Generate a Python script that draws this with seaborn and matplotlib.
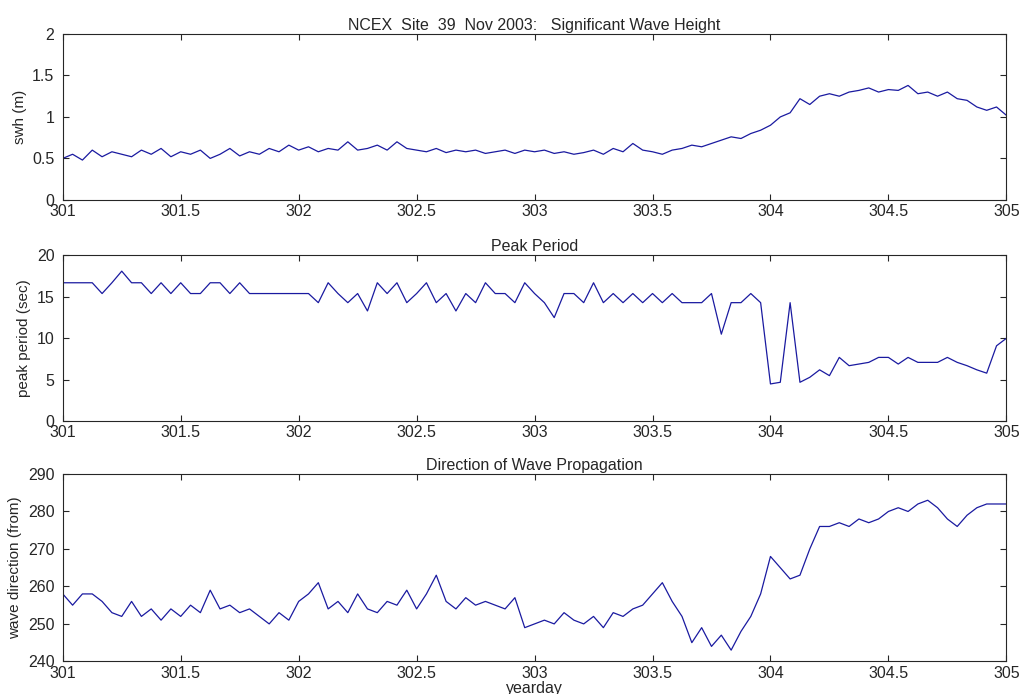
import numpy as np
import pandas as pd
import seaborn as sns
import matplotlib
matplotlib.use("Agg")
import matplotlib.pyplot as plt

sns.set_style("ticks")
plt.rcParams['font.family'] = ['Liberation Sans', 'DejaVu Sans']

yearday_start, yearday_end = 301, 305
swh = [0.50,0.55,0.48,0.60,0.52,0.58,0.55,0.52,0.60,0.55,0.62,0.52,
       0.58,0.55,0.60,0.50,0.55,0.62,0.53,0.58,0.55,0.62,0.58,0.66,
       0.60,0.64,0.58,0.62,0.60,0.70,0.60,0.62,0.66,0.60,0.70,0.62,
       0.60,0.58,0.62,0.57,0.60,0.58,0.60,0.56,0.58,0.60,0.56,0.60,
       0.58,0.60,0.56,0.58,0.55,0.57,0.60,0.55,0.62,0.58,0.68,0.60,
       0.58,0.55,0.60,0.62,0.66,0.64,0.68,0.72,0.76,0.74,0.80,0.84,
       0.90,1.00,1.05,1.22,1.15,1.25,1.28,1.25,1.30,1.32,1.35,1.30,
       1.33,1.32,1.38,1.28,1.30,1.25,1.30,1.22,1.20,1.12,1.08,1.12,
       1.02]
period = [16.7,16.7,16.7,16.7,15.4,16.7,18.1,16.7,16.7,15.4,16.7,15.4,
          16.7,15.4,15.4,16.7,16.7,15.4,16.7,15.4,15.4,15.4,15.4,15.4,
          15.4,15.4,14.3,16.7,15.4,14.3,15.4,13.3,16.7,15.4,16.7,14.3,
          15.4,16.7,14.3,15.4,13.3,15.4,14.3,16.7,15.4,15.4,14.3,16.7,
          15.4,14.3,12.5,15.4,15.4,14.3,16.7,14.3,15.4,14.3,15.4,14.3,
          15.4,14.3,15.4,14.3,14.3,14.3,15.4,10.5,14.3,14.3,15.4,14.3,
          4.5,4.7,14.3,4.7,5.3,6.2,5.5,7.7,6.7,6.9,7.1,7.7,
          7.7,6.9,7.7,7.1,7.1,7.1,7.7,7.1,6.7,6.2,5.8,9.1,
          10.0]
direction = [258,255,258,258,256,253,252,256,252,254,251,254,
             252,255,253,259,254,255,253,254,252,250,253,251,
             256,258,261,254,256,253,258,254,253,256,255,259,
             254,258,263,256,254,257,255,256,255,254,257,249,
             250,251,250,253,251,250,252,249,253,252,254,255,
             258,261,256,252,245,249,244,247,243,248,252,258,
             268,265,262,263,270,276,276,277,276,278,277,278,
             280,281,280,282,283,281,278,276,279,281,282,282,
             282]

def frame(vals):
    x = np.linspace(yearday_start, yearday_end, len(vals))
    return pd.DataFrame({"x": x, "y": vals})

fig = plt.figure(figsize=(10.29, 6.94), dpi=100)
L, W = 0.061, 0.917
axes = [fig.add_axes([L, 0.712, W, 0.239]),
        fig.add_axes([L, 0.393, W, 0.239]),
        fig.add_axes([L, 0.047, W, 0.270])]
specs = [(swh, "swh (m)", "NCEX  Site  39  Nov 2003:   Significant Wave Height", (0, 2), np.arange(0, 2.01, 0.5), ["0","0.5","1","1.5","2"]),
         (period, "peak period (sec)", "Peak Period", (0, 20), np.arange(0, 21, 5), None),
         (direction, "wave direction (from)", "Direction of Wave Propagation", (240, 290), np.arange(240, 291, 10), None)]
for ax, (vals, yl, tt, lim, ticks, tl) in zip(axes, specs):
    sns.lineplot(data=frame(vals), x="x", y="y", ax=ax, color="#1a1aa0", linewidth=0.9)
    ax.set_xlim(301, 305)
    ax.set_ylim(*lim)
    ax.set_yticks(ticks)
    if tl: ax.set_yticklabels(tl)
    ax.set_xticks(np.arange(301, 305.01, 0.5))
    ax.set_xticklabels(["301","301.5","302","302.5","303","303.5","304","304.5","305"])
    ax.tick_params(direction="in", labelsize=11.5, length=4, top=True, right=True)
    ax.tick_params(axis="x", pad=3)
    ax.tick_params(axis="y", pad=6)
    ax.set_ylabel(yl, fontsize=11)
    ax.set_xlabel("")
    ax.set_title(tt, fontsize=11.5, pad=3)
    for s in ax.spines.values():
        s.set_linewidth(0.8)
axes[2].set_xlabel("yearday", fontsize=11.5, labelpad=0)
fig.savefig("out.png", dpi=100)
